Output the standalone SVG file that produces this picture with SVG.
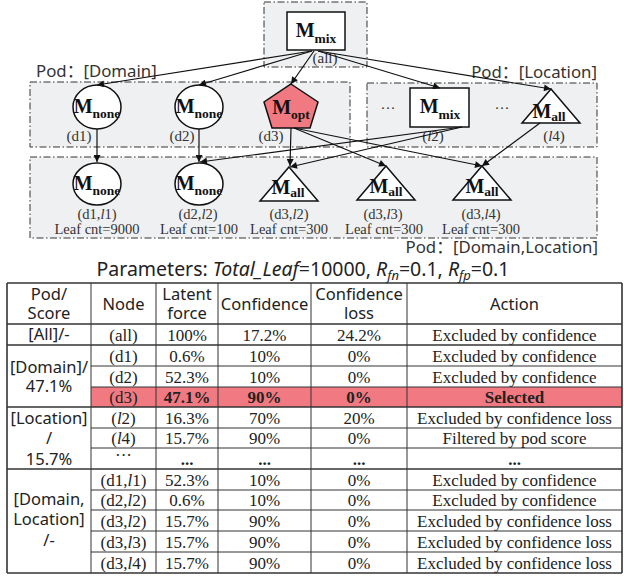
<svg xmlns="http://www.w3.org/2000/svg" width="624" height="576" viewBox="0 0 624 576">
<style>
.pod{fill:#eff0f2;stroke:#333;stroke-width:1;stroke-dasharray:7,2.5,1.5,2.5}
.nd{fill:#fff;stroke:#111;stroke-width:1.5}
.M{font-family:"Liberation Serif",serif;font-weight:bold;font-size:20px;fill:#111}
.Ms{font-size:13.5px}
.lb{font-family:"Liberation Serif",serif;font-size:15px;fill:#333}
.sm{font-size:14.5px}
.pl{font-family:"Noto Sans","Noto Sans CJK SC",sans-serif;font-size:16.8px;fill:#333}
.cn line{stroke:#111;stroke-width:1.2;marker-end:url(#ah)}
.th{font-family:"Noto Sans","Noto Sans CJK SC",sans-serif;font-size:16.5px;fill:#222;text-anchor:middle}
.td{font-family:"Liberation Serif",serif;font-size:17px;fill:#222;text-anchor:middle}
.b{font-weight:bold}
.g line{stroke:#333;stroke-width:1}
.g .k{stroke-width:1.6}
</style>
<defs>
<marker id="ah" viewBox="0 0 10 10" refX="10" refY="5" markerWidth="8" markerHeight="7" markerUnits="userSpaceOnUse" orient="auto">
<path d="M0,0 L10,5 L0,10 z" fill="#111"/>
</marker>
</defs>
<rect width="624" height="576" fill="#fff"/>
<g id="pods">
<rect class="pod" x="264" y="2" width="103" height="65"/>
<rect class="pod" x="30" y="82" width="320" height="65"/>
<rect class="pod" x="367" y="83" width="230" height="64"/>
<rect class="pod" x="30" y="157" width="567" height="81"/>
<text class="pl" x="36" y="77">Pod：[Domain]</text>
<text class="pl" x="597" y="78" text-anchor="end">Pod：[Location]</text>
<text class="pl" x="598" y="253" text-anchor="end">Pod：[Domain,Location]</text>
</g>
<g id="n-all">
<rect class="nd" x="287" y="12" width="58" height="38"/>
<text class="M" x="316" y="37" text-anchor="middle">M<tspan class="Ms" dy="6">mix</tspan></text>
<text class="lb" x="325" y="63" text-anchor="middle">(all)</text>
</g>
<g id="n-d1">
<ellipse class="nd" cx="97" cy="107" rx="24" ry="22"/>
<text class="M" x="97" y="113" text-anchor="middle">M<tspan class="Ms" dy="5">none</tspan></text>
<text class="lb" x="79" y="141" text-anchor="middle">(d1)</text>
</g>
<g id="n-d2">
<ellipse class="nd" cx="199" cy="107" rx="24" ry="22"/>
<text class="M" x="199" y="113" text-anchor="middle">M<tspan class="Ms" dy="5">none</tspan></text>
<text class="lb" x="182" y="141" text-anchor="middle">(d2)</text>
</g>
<g id="n-d3">
<polygon points="291,84 318,102 310,128 272,128 264,102" fill="#f17a82" stroke="#111" stroke-width="1.5"/>
<text class="M" x="291" y="114" text-anchor="middle">M<tspan class="Ms" dy="5">opt</tspan></text>
<text class="lb" x="271" y="141" text-anchor="middle">(d3)</text>
</g>
<g id="n-l2">
<text class="lb" x="388" y="113" text-anchor="middle">···</text>
<rect class="nd" x="410" y="88" width="59" height="39"/>
<text class="M" x="440" y="113" text-anchor="middle">M<tspan class="Ms" dy="6">mix</tspan></text>
<text class="lb" x="433" y="141" text-anchor="middle">(<tspan font-style="italic">l</tspan>2)</text>
</g>
<g id="n-l4">
<text class="lb" x="502" y="113" text-anchor="middle">···</text>
<polygon class="nd" points="551,89 580,123 522,123"/>
<text class="M" x="549" y="118" text-anchor="middle" font-size="18">M<tspan class="Ms" dy="3">all</tspan></text>
<text class="lb" x="554" y="141" text-anchor="middle">(<tspan font-style="italic">l</tspan>4)</text>
</g>
<g id="n-d1l1">
<ellipse class="nd" cx="97" cy="184" rx="24" ry="21"/>
<text class="M" x="97" y="190" text-anchor="middle">M<tspan class="Ms" dy="5">none</tspan></text>
<text class="lb sm" x="97" y="219" text-anchor="middle">(d1,<tspan font-style="italic">l</tspan>1)</text>
<text class="lb sm" x="97" y="234" text-anchor="middle">Leaf cnt=9000</text>
</g>
<g id="n-d2l2">
<ellipse class="nd" cx="199" cy="184" rx="24" ry="21"/>
<text class="M" x="199" y="190" text-anchor="middle">M<tspan class="Ms" dy="5">none</tspan></text>
<text class="lb sm" x="198" y="219" text-anchor="middle">(d2,<tspan font-style="italic">l</tspan>2)</text>
<text class="lb sm" x="199" y="234" text-anchor="middle">Leaf cnt=100</text>
</g>
<g id="n-d3l2">
<polygon class="nd" points="289,167 318,201 260,201"/>
<text class="M" x="288" y="194" text-anchor="middle" font-size="18">M<tspan class="Ms" dy="3">all</tspan></text>
<text class="lb sm" x="289" y="219" text-anchor="middle">(d3,<tspan font-style="italic">l</tspan>2)</text>
<text class="lb sm" x="289" y="234" text-anchor="middle">Leaf cnt=300</text>
</g>
<g id="n-d3l3">
<polygon class="nd" points="386,166 415,200 357,200"/>
<text class="M" x="386" y="193" text-anchor="middle" font-size="18">M<tspan class="Ms" dy="3">all</tspan></text>
<text class="lb sm" x="383" y="219" text-anchor="middle">(d3,<tspan font-style="italic">l</tspan>3)</text>
<text class="lb sm" x="384" y="234" text-anchor="middle">Leaf cnt=300</text>
</g>
<g id="n-d3l4">
<polygon class="nd" points="482,166 511,200 453,200"/>
<text class="M" x="482" y="193" text-anchor="middle" font-size="18">M<tspan class="Ms" dy="3">all</tspan></text>
<text class="lb sm" x="481" y="219" text-anchor="middle">(d3,<tspan font-style="italic">l</tspan>4)</text>
<text class="lb sm" x="481" y="234" text-anchor="middle">Leaf cnt=300</text>
</g>
<g id="connectors" class="cn">
<line x1="312" y1="51" x2="97" y2="85"/>
<line x1="312" y1="51" x2="199" y2="85"/>
<line x1="314" y1="51" x2="291" y2="84"/>
<line x1="318" y1="51" x2="440" y2="88"/>
<line x1="318" y1="51" x2="551" y2="89"/>
<line x1="97" y1="129" x2="97" y2="162"/>
<line x1="199" y1="129" x2="199" y2="162"/>
<line x1="291" y1="128" x2="290" y2="166"/>
<line x1="294" y1="128" x2="386" y2="166"/>
<line x1="294" y1="128" x2="482" y2="166"/>
<line x1="462" y1="127" x2="200" y2="162"/>
<line x1="462" y1="127" x2="290" y2="167"/>
<line x1="540" y1="123" x2="482" y2="166"/>
</g>
<g id="params">
<text font-family="Noto Sans,Noto Sans CJK SC,sans-serif" font-size="19.5" fill="#222" x="303" y="276" text-anchor="middle">Parameters: <tspan font-style="italic">Total_Leaf</tspan>=10000, <tspan font-style="italic">R</tspan><tspan font-style="italic" font-size="13" dy="4">fn</tspan><tspan dy="-4">=0.1, </tspan><tspan font-style="italic">R</tspan><tspan font-style="italic" font-size="13" dy="4">fp</tspan><tspan dy="-4">=0.1</tspan></text>
</g>
<g id="table">
<rect x="91" y="387" width="531" height="20" fill="#f17a82"/>
<g class="g">
<line x1="7" y1="283" x2="622" y2="283" class="k"/>
<line x1="7" y1="573" x2="622" y2="573" class="k"/>
<line x1="7" y1="283" x2="7" y2="573" class="k"/>
<line x1="622" y1="283" x2="622" y2="573" class="k"/>
<line x1="91" y1="283" x2="91" y2="573"/>
<line x1="156" y1="283" x2="156" y2="573"/>
<line x1="218" y1="283" x2="218" y2="573"/>
<line x1="311" y1="283" x2="311" y2="573"/>
<line x1="407" y1="283" x2="407" y2="573"/>
<line x1="7" y1="324" x2="622" y2="324" class="k"/>
<line x1="7" y1="345" x2="622" y2="345" class="k"/>
<line x1="91" y1="366" x2="622" y2="366"/>
<line x1="91" y1="387" x2="622" y2="387"/>
<line x1="7" y1="407" x2="622" y2="407" class="k"/>
<line x1="91" y1="428" x2="622" y2="428"/>
<line x1="91" y1="448" x2="622" y2="448"/>
<line x1="7" y1="469" x2="622" y2="469" class="k"/>
<line x1="91" y1="490" x2="622" y2="490"/>
<line x1="91" y1="510" x2="622" y2="510"/>
<line x1="91" y1="531" x2="622" y2="531"/>
<line x1="91" y1="552" x2="622" y2="552"/>
</g>
<text class="th" x="49" y="300">Pod/</text>
<text class="th" x="49" y="319">Score</text>
<text class="th" x="123.5" y="310">Node</text>
<text class="th" x="187" y="300">Latent</text>
<text class="th" x="187" y="319">force</text>
<text class="th" x="264.5" y="310">Confidence</text>
<text class="th" x="359" y="300">Confidence</text>
<text class="th" x="359" y="319">loss</text>
<text class="th" x="514.5" y="310">Action</text>
<text class="th" x="49" y="340">[All]/-</text>
<text class="th" x="49" y="373">[Domain]/</text>
<text class="th" x="49" y="392">47.1%</text>
<text class="th" x="49" y="424">[Location]</text>
<text class="th" x="49" y="444">/</text>
<text class="th" x="49" y="465">15.7%</text>
<text class="th" x="49" y="505">[Domain,</text>
<text class="th" x="49" y="525">Location]</text>
<text class="th" x="49" y="546">/-</text>
<g>
<text class="td" x="123.5" y="341">(all)</text><text class="td" x="187" y="341">100%</text><text class="td" x="264.5" y="341">17.2%</text><text class="td" x="359" y="341">24.2%</text><text class="td" x="514.5" y="341">Excluded by confidence</text>
<text class="td" x="123.5" y="362">(d1)</text><text class="td" x="187" y="362">0.6%</text><text class="td" x="264.5" y="362">10%</text><text class="td" x="359" y="362">0%</text><text class="td" x="514.5" y="362">Excluded by confidence</text>
<text class="td" x="123.5" y="383">(d2)</text><text class="td" x="187" y="383">52.3%</text><text class="td" x="264.5" y="383">10%</text><text class="td" x="359" y="383">0%</text><text class="td" x="514.5" y="383">Excluded by confidence</text>
<text class="td" x="123.5" y="403">(d3)</text><text class="td b" x="187" y="403">47.1%</text><text class="td b" x="264.5" y="403">90%</text><text class="td b" x="359" y="403">0%</text><text class="td b" x="514.5" y="403">Selected</text>
<text class="td" x="123.5" y="424">(<tspan font-style="italic">l</tspan>2)</text><text class="td" x="187" y="424">16.3%</text><text class="td" x="264.5" y="424">70%</text><text class="td" x="359" y="424">20%</text><text class="td" x="514.5" y="424">Excluded by confidence loss</text>
<text class="td" x="123.5" y="444">(<tspan font-style="italic">l</tspan>4)</text><text class="td" x="187" y="444">15.7%</text><text class="td" x="264.5" y="444">90%</text><text class="td" x="359" y="444">0%</text><text class="td" x="514.5" y="444">Filtered by pod score</text>
<text class="td" x="123.5" y="461">···</text><text class="td b" x="187" y="465">...</text><text class="td b" x="264.5" y="465">...</text><text class="td b" x="359" y="465">...</text><text class="td b" x="514.5" y="465">...</text>
<text class="td" x="123.5" y="486">(d1,<tspan font-style="italic">l</tspan>1)</text><text class="td" x="187" y="486">52.3%</text><text class="td" x="264.5" y="486">10%</text><text class="td" x="359" y="486">0%</text><text class="td" x="514.5" y="486">Excluded by confidence</text>
<text class="td" x="123.5" y="506">(d2,<tspan font-style="italic">l</tspan>2)</text><text class="td" x="187" y="506">0.6%</text><text class="td" x="264.5" y="506">10%</text><text class="td" x="359" y="506">0%</text><text class="td" x="514.5" y="506">Excluded by confidence</text>
<text class="td" x="123.5" y="527">(d3,<tspan font-style="italic">l</tspan>2)</text><text class="td" x="187" y="527">15.7%</text><text class="td" x="264.5" y="527">90%</text><text class="td" x="359" y="527">0%</text><text class="td" x="514.5" y="527">Excluded by confidence loss</text>
<text class="td" x="123.5" y="548">(d3,<tspan font-style="italic">l</tspan>3)</text><text class="td" x="187" y="548">15.7%</text><text class="td" x="264.5" y="548">90%</text><text class="td" x="359" y="548">0%</text><text class="td" x="514.5" y="548">Excluded by confidence loss</text>
<text class="td" x="123.5" y="569">(d3,<tspan font-style="italic">l</tspan>4)</text><text class="td" x="187" y="569">15.7%</text><text class="td" x="264.5" y="569">90%</text><text class="td" x="359" y="569">0%</text><text class="td" x="514.5" y="569">Excluded by confidence loss</text>
</g>
</g>
</svg>
